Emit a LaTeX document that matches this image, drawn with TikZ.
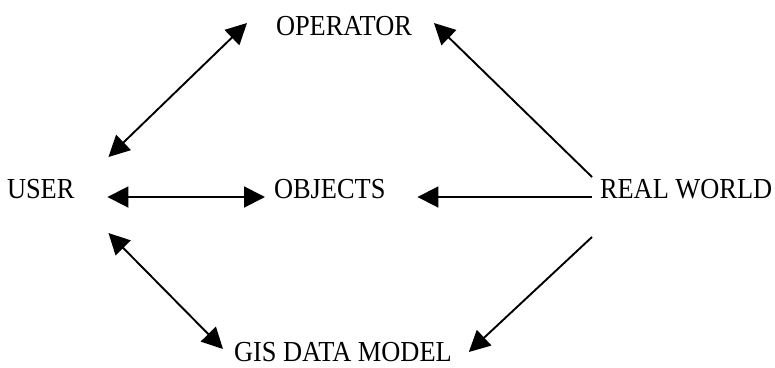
\documentclass[tikz,border=0pt]{standalone}
\usepackage{fontspec}
\setmainfont[FakeStretch=0.91]{Liberation Serif}
\usetikzlibrary{arrows.meta}
\begin{document}
\begin{tikzpicture}[x=1pt,y=-1pt,
  lbl/.style={inner sep=0pt,outer sep=0pt,anchor=base west,font=\fontsize{29}{32}\selectfont},
  conn/.style={line width=1.9pt,-{Triangle[length=21pt,width=21pt]}},
  dconn/.style={line width=1.9pt,{Triangle[length=21pt,width=21pt]}-{Triangle[length=21pt,width=21pt]}}]
\useasboundingbox (0,0) rectangle (775,367);
\node[lbl] (user) at (7,198) {USER};
\node[lbl] (operator) at (276,35) {OPERATOR};
\node[lbl] (objects) at (274,198) {OBJECTS};
\node[lbl] (real) at (600,198) {REAL WORLD};
\node[lbl] (gis) at (234,361) {GIS DATA MODEL};
\draw[dconn] ([shift={(34,-41)}]user.base east) -- ([shift={(-29,-12)}]operator.base west);
\draw[dconn] ([shift={(33,-1)}]user.base east) -- ([shift={(-9,-1)}]objects.base west);
\draw[dconn] ([shift={(34,35)}]user.base east) -- ([shift={(-11,-12)}]gis.base west);
\draw[conn] ([shift={(-8,-21)}]real.base west) -- ([shift={(22,-12)}]operator.base east);
\draw[conn] ([shift={(-8,-1)}]real.base west) -- ([shift={(32,-1)}]objects.base east);
\draw[conn] ([shift={(-8,39)}]real.base west) -- ([shift={(17,-9)}]gis.base east);
\end{tikzpicture}
\end{document}
